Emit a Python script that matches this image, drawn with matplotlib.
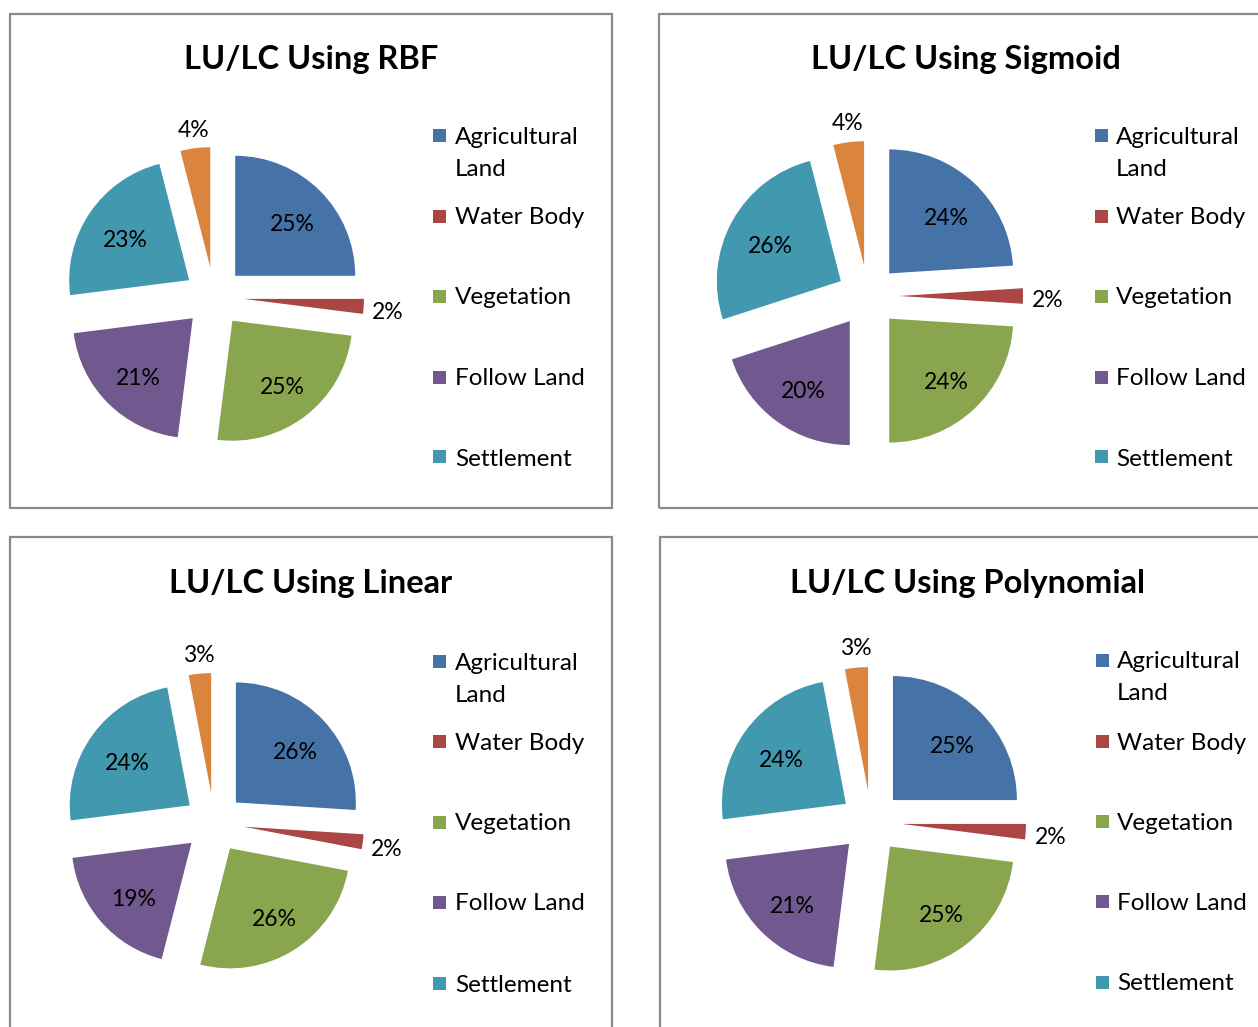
import matplotlib
matplotlib.use("Agg")
import numpy as np
import matplotlib.pyplot as plt
from matplotlib.patches import Rectangle

W, H = 1258, 1027

categories = ["Agricultural\nLand", "Water Body", "Vegetation", "Follow Land", "Settlement", "Other"]
legend_categories = categories[:5]
titles = ["LU/LC Using RBF", "LU/LC Using Sigmoid", "LU/LC Using Linear", "LU/LC Using Polynomial"]
rbf = [25, 2, 25, 21, 23, 4]
sigmoid = [24, 2, 24, 20, 26, 4]
linear = [26, 2, 26, 19, 24, 3]
polynomial = [25, 2, 25, 21, 24, 3]
series = [rbf, sigmoid, linear, polynomial]

colors = ["#4572A7", "#AA4643", "#89A54E", "#71588F", "#4198AF", "#DB843D"]

FONT = "Lato"
plt.rcParams["font.family"] = [FONT, "DejaVu Sans"]

# layout in pixels
panels = [
    dict(box=(10, 14, 612, 508), c=(214, 297), r=120, title=(311, 60), sq=433, tx=455, ly=[135, 216, 296, 377, 457]),
    dict(box=(659, 14, 1262, 508), c=(868, 296), r=124, title=(966, 60), sq=1095, tx=1116, ly=[135, 216, 296, 377, 457]),
    dict(box=(10, 537, 612, 1032), c=(214, 823), r=120, title=(311, 583), sq=433, tx=455, ly=[661, 741, 822, 902, 983]),
    dict(box=(660, 537, 1262, 1032), c=(871, 822), r=124, title=(967, 583), sq=1096, tx=1117, ly=[660, 741, 821, 901, 982]),
]

fig = plt.figure(figsize=(W / 100, H / 100), dpi=100)
fig.patch.set_facecolor("white")

def fx(x):
    return x / W

def fy(y):
    return 1 - y / H

explode_frac = 0.25
L = 210
text_dy = 2  # pixels to push text down

for p, title, vals in zip(panels, titles, series):
    x0, y0, x1, y1 = p["box"]
    fig.patches.append(Rectangle((fx(x0), fy(y1)), fx(x1 - x0), (y1 - y0) / H,
                                 transform=fig.transFigure, facecolor="none",
                                 edgecolor="#8a8a8a", linewidth=1.6, zorder=-1))
    fig.text(fx(p["title"][0]), fy(p["title"][1]), title, ha="center", va="center",
             fontsize=23.5, fontweight="bold", color="black")

    cx, cy = p["c"]
    r = p["r"]
    ax = fig.add_axes([fx(cx - L), fy(cy + L), 2 * L / W, 2 * L / H])
    ax.patch.set_alpha(0)
    wedges, _ = ax.pie(vals, colors=colors, explode=[explode_frac] * len(vals),
                       startangle=90, counterclock=False, radius=1,
                       wedgeprops=dict(linewidth=0))
    total = sum(vals)
    for w, v in zip(wedges, vals):
        mid = np.deg2rad((w.theta1 + w.theta2) / 2)
        d = explode_frac + (1.19 if v / total < 0.05 else 0.66)
        ax.text(d * np.cos(mid) + 1.5 / r, d * np.sin(mid) - 4.5 / r, f"{v}%",
                ha="center", va="center", fontsize=16.5, color="black")
    ax.set_xlim(-L / r, L / r)
    ax.set_ylim(-L / r, L / r)
    ax.set_aspect("equal")
    ax.axis("off")

    # legend
    for name, col, ly in zip(legend_categories, colors, p["ly"]):
        s = 13
        fig.patches.append(Rectangle((fx(p["sq"]), fy(ly + s / 2)), s / W, s / H,
                                     transform=fig.transFigure, facecolor=col,
                                     edgecolor="none", zorder=2))
        for i, line in enumerate(name.split("\n")):
            fig.text(fx(p["tx"]), fy(ly + i * 32 + text_dy), line, ha="left", va="center",
                     fontsize=17.5, color="black")

fig.savefig("out.png", dpi=100)
